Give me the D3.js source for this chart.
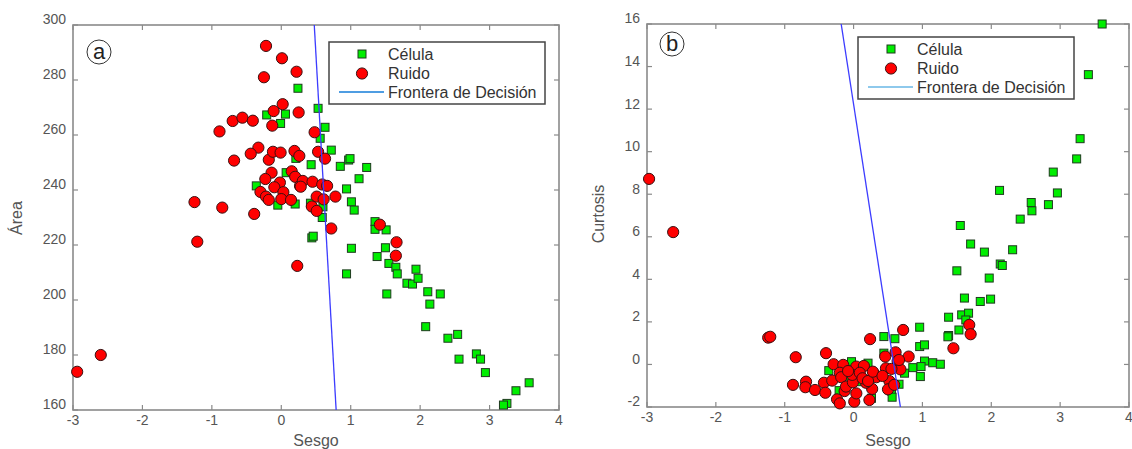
<!DOCTYPE html>
<html>
<head>
<meta charset="utf-8">
<script src="https://cdn.jsdelivr.net/npm/d3@7"></script>
<style>
  html, body { margin: 0; padding: 0; background: #fff; }
  svg { display: block; font-family: "Liberation Sans", Arial, sans-serif; }
</style>
</head>
<body>
<svg id="chart" width="1132" height="449"></svg>
<script>
// ---------- Data (panel a: Sesgo vs Área) ----------
const aCelulaX = [0.24,-0.21,0.06,-0.01,0.21,0.07,-0.36,-0.05,0.20,0.53,0.63,0.56,0.72,0.43,0.85,0.97,0.99,1.23,1.12,0.94,1.01,1.05,0.42,0.60,0.59,1.35,1.35,1.51,0.44,0.46,1.01,1.50,0.94,1.38,1.55,1.65,1.67,1.52,1.81,1.89,1.94,1.97,2.11,2.29,2.14,2.08,2.40,2.54,2.56,2.81,2.87,2.94,3.57,3.38,3.25,3.20];
const aCelulaY = [277,267.3,267.6,264.2,251.5,246.3,241.5,234.5,234.9,269.7,262.8,258.8,254.5,249.2,248.6,250.9,251.4,248.2,244.1,240.4,235.7,232.7,235.2,233.9,230,228.5,225.7,225.5,222.6,223.2,218.8,219,209.5,215.8,213.3,211.9,209.5,202.2,206.1,205.8,211.2,207.9,203,202.2,198.5,190.3,186.1,187.5,178.5,180.4,178.5,173.6,169.9,167,162.4,161.8];
const aRuidoX = [-0.22,0.01,0.22,-0.25,0.02,-0.11,-0.13,0.25,-0.89,-0.70,-0.56,-0.41,-0.33,-0.44,-0.68,-0.18,-0.12,-0.01,0.19,0.26,-0.14,-0.23,0.15,0.20,-0.02,-0.10,-0.30,0.03,-0.22,-0.18,0.00,0.14,0.27,-1.25,-0.85,-0.39,-1.21,0.23,-2.60,-2.94,0.48,0.53,0.63,0.31,0.45,0.28,0.59,0.66,0.51,0.61,0.78,0.44,0.51,0.72,1.42,1.66,1.65];
const aRuidoY = [292.4,287.9,283,281,271.2,268.7,263.4,268.2,261.3,265.1,266.3,265.2,255.4,253.2,250.7,251,253.9,253.6,254.2,252.4,246.3,244,246.8,244.8,242.7,241,239.3,239.2,237.6,236.4,236.7,236.4,241.5,235.6,233.6,231.3,221.2,212.4,180,173.9,261,253.9,251.4,243.3,243,241.2,242,241.5,237.6,236.6,237.6,234,232.4,226,227.4,221,216.1];
const aBoundaryX = [0.475, 0.79];
const aBoundaryY = [300, 160];
const aXTicks = [-3,-2,-1,0,1,2,3,4];
const aYTicks = [160,180,200,220,240,260,280,300];

// ---------- Data (panel b: Sesgo vs Curtosis) ----------
const bCelulaX = [3.61,3.41,3.29,3.24,2.90,2.96,2.83,2.58,2.59,2.42,2.12,1.55,1.70,1.90,2.31,2.13,2.16,1.97,1.50,1.61,1.84,1.99,1.38,1.57,1.67,1.63,1.38,1.37,1.53,0.96,0.44,0.60,0.96,1.03,1.03,1.15,1.26,0.86,0.98,0.97,0.74,0.66,0.55,0.44,0.21,-0.03,0.09,0.26,-0.36,-0.21,0.56,-0.12];
const bCelulaY = [16.0,13.62,10.61,9.66,9.04,8.06,7.51,7.61,7.22,6.83,8.18,6.53,5.66,5.28,5.39,4.72,4.65,4.06,4.40,3.12,2.96,3.07,2.22,2.33,2.41,2.09,1.36,1.30,1.62,1.75,1.31,1.21,0.84,0.92,0.16,0.08,0.01,-0.15,-0.10,-0.57,-0.41,-0.93,-1.25,0.53,0.06,0.13,-0.81,-1.59,-0.29,-1.23,-1.54,-0.55];
const bRuidoX = [-2.97,-2.62,-1.24,-1.21,-0.84,-0.40,0.24,-0.88,-0.69,-0.70,-0.56,-0.43,-0.41,-0.31,-0.29,-0.15,-0.20,-0.18,-0.24,-0.20,-0.13,-0.11,-0.01,0.04,-0.02,0.01,0.04,0.15,0.23,0.27,0.29,0.33,0.18,0.72,-0.08,0.09,0.13,0.21,0.28,0.46,0.61,0.64,0.47,0.68,0.55,0.52,0.50,0.59,0.80,0.66,0.42,1.45,1.68,1.70];
const bRuidoY = [8.72,6.22,1.26,1.30,0.34,0.53,1.19,-0.96,-0.81,-1.07,-1.20,-0.86,-1.33,-0.76,0.01,-0.02,-0.39,-0.60,-1.64,-1.83,-1.25,-1.04,-0.84,-0.10,-0.49,-1.75,-1.36,-0.07,-1.67,-1.15,-0.41,-0.60,-0.86,1.62,-0.31,-0.39,-0.65,-0.78,-0.34,0.37,0.57,0.16,-0.18,-0.23,-0.21,-0.78,-1.17,-0.96,0.37,0.21,-0.54,0.76,1.86,1.42];
const bBoundaryX = [-0.18, 0.68];
const bBoundaryY = [16, -2];
const bXTicks = [-3,-2,-1,0,1,2,3,4];
const bYTicks = [-2,0,2,4,6,8,10,12,14,16];

const legendLabels = ["Célula", "Ruido", "Frontera de Decisión"];

const svg = d3.select("#chart");

function panel(cfg) {
  const { left, right, top, bottom } = cfg.box;
  const x = d3.scaleLinear().domain(cfg.xDomain).range([left, right]);
  const y = d3.scaleLinear().domain(cfg.yDomain).range([bottom, top]);
  const g = svg.append("g");
  const axisColor = "#8a8a8a";
  const textColor = "#555";

  // ticks (inward on all sides)
  const tl = 5;
  cfg.xTicks.forEach(v => {
    g.append("line").attr("x1", x(v)).attr("x2", x(v)).attr("y1", bottom).attr("y2", bottom - tl).attr("stroke", axisColor).attr("stroke-width", 1.2);
    g.append("line").attr("x1", x(v)).attr("x2", x(v)).attr("y1", top).attr("y2", top + tl).attr("stroke", axisColor).attr("stroke-width", 1.2);
    g.append("text").attr("x", x(v)).attr("y", bottom + cfg.xLabelDy).attr("text-anchor", "middle")
      .attr("dy", "0.35em").attr("font-size", 14).attr("fill", textColor).text(v);
  });
  cfg.yTicks.forEach(v => {
    g.append("line").attr("x1", left).attr("x2", left + tl).attr("y1", y(v)).attr("y2", y(v)).attr("stroke", axisColor).attr("stroke-width", 1.2);
    g.append("line").attr("x1", right).attr("x2", right - tl).attr("y1", y(v)).attr("y2", y(v)).attr("stroke", axisColor).attr("stroke-width", 1.2);
    g.append("text").attr("x", left - 7).attr("y", y(v) - cfg.yLabelUp).attr("text-anchor", "end")
      .attr("dy", "0.35em").attr("font-size", 14).attr("fill", textColor).text(v);
  });
  // frame
  g.append("rect").attr("x", left).attr("y", top).attr("width", right - left).attr("height", bottom - top)
    .attr("fill", "none").attr("stroke", axisColor).attr("stroke-width", 1.6);

  // axis titles
  g.append("text").attr("x", (left + right) / 2).attr("y", 446).attr("text-anchor", "middle")
    .attr("font-size", 16).attr("fill", textColor).text(cfg.xTitle);
  g.append("text").attr("transform", `translate(${cfg.yTitleX},${cfg.yTitleY}) rotate(-90)`)
    .attr("text-anchor", "middle").attr("font-size", 16).attr("fill", textColor).text(cfg.yTitle);

  // clip for boundary
  const clipId = "clip" + cfg.id;
  svg.append("clipPath").attr("id", clipId).append("rect")
    .attr("x", left).attr("y", top).attr("width", right - left).attr("height", bottom - top);

  // points: Célula (green squares)
  const s = 8;
  g.selectAll(".cel").data(cfg.celX.map((v, i) => [v, cfg.celY[i]])).enter().append("rect")
    .attr("x", d => x(d[0]) - s / 2).attr("y", d => y(d[1]) - s / 2).attr("width", s).attr("height", s)
    .attr("fill", "#00ee00").attr("stroke", "#1f3a1f").attr("stroke-width", 1);
  // Ruido (red circles)
  g.selectAll(".rui").data(cfg.ruiX.map((v, i) => [v, cfg.ruiY[i]])).enter().append("circle")
    .attr("cx", d => x(d[0])).attr("cy", d => y(d[1])).attr("r", 5.6)
    .attr("fill", "#ff0000").attr("stroke", "#3a1010").attr("stroke-width", 1);

  // decision boundary
  const line = d3.line().x(d => x(d[0])).y(d => y(d[1]));
  g.append("path").datum(cfg.bX.map((v, i) => [v, cfg.bY[i]]))
    .attr("d", line).attr("fill", "none").attr("stroke", "#3c3cff").attr("stroke-width", 1.3)
    .attr("clip-path", `url(#${clipId})`);

  // panel label
  g.append("circle").attr("cx", cfg.tag.x).attr("cy", cfg.tag.y).attr("r", 12)
    .attr("fill", "#fff").attr("stroke", "#333").attr("stroke-width", 1);
  g.append("text").attr("x", cfg.tag.x).attr("y", cfg.tag.y).attr("dy", "0.32em").attr("text-anchor", "middle")
    .attr("font-size", 22).attr("fill", "#222").text(cfg.tag.t);

  // legend
  const L = cfg.legend;
  g.append("rect").attr("x", L.x).attr("y", L.y).attr("width", 216).attr("height", 62)
    .attr("fill", "#fff").attr("stroke", "#444").attr("stroke-width", 1.5);
  const mx = L.x + 33, tx = L.x + 59;
  const rows = [L.y + 12, L.y + 31.5, L.y + 50];
  g.append("rect").attr("x", mx - s / 2).attr("y", rows[0] - s / 2).attr("width", s).attr("height", s)
    .attr("fill", "#00ee00").attr("stroke", "#1f3a1f").attr("stroke-width", 1);
  g.append("circle").attr("cx", mx).attr("cy", rows[1]).attr("r", 5.6)
    .attr("fill", "#ff0000").attr("stroke", "#3a1010").attr("stroke-width", 1);
  g.append("line").attr("x1", L.x + 10).attr("x2", L.x + 55).attr("y1", rows[2]).attr("y2", rows[2])
    .attr("stroke", L.lineColor).attr("stroke-width", 2);
  legendLabels.forEach((t, i) => {
    g.append("text").attr("x", tx).attr("y", rows[i]).attr("dy", "0.35em").attr("font-size", 16)
      .attr("fill", "#333").text(t);
  });
}

panel({
  id: "a", box: { left: 73, right: 559, top: 25, bottom: 410 },
  xDomain: [-3, 4], yDomain: [160, 300], xTicks: aXTicks, yTicks: aYTicks,
  xLabelDy: 10, yLabelUp: 6,
  xTitle: "Sesgo", yTitle: "Área", yTitleX: 22, yTitleY: 218,
  celX: aCelulaX, celY: aCelulaY, ruiX: aRuidoX, ruiY: aRuidoY,
  bX: aBoundaryX, bY: aBoundaryY,
  tag: { x: 99, y: 52, t: "a" },
  legend: { x: 329, y: 42, lineColor: "#4f9de2" }
});

panel({
  id: "b", box: { left: 647, right: 1129, top: 24, bottom: 407 },
  xDomain: [-3, 4], yDomain: [-2, 16], xTicks: bXTicks, yTicks: bYTicks,
  xLabelDy: 10, yLabelUp: 5.5,
  xTitle: "Sesgo", yTitle: "Curtosis", yTitleX: 604, yTitleY: 214,
  celX: bCelulaX, celY: bCelulaY, ruiX: bRuidoX, ruiY: bRuidoY,
  bX: bBoundaryX, bY: bBoundaryY,
  tag: { x: 672, y: 44, t: "b" },
  legend: { x: 858, y: 37, lineColor: "#8ec9ec" }
});
</script>
</body>
</html>
